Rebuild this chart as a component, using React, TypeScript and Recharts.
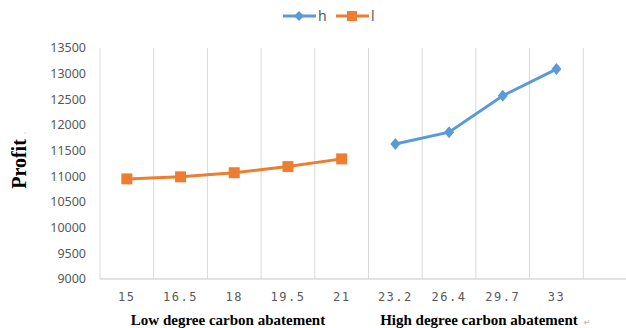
import React from 'react';
import {
  LineChart,
  Line,
  XAxis,
  YAxis,
  CartesianGrid,
} from 'recharts';

const degrees = ['15', '16.5', '18', '19.5', '21', '23.2', '26.4', '29.7', '33', ''];
const highProfit = [null, null, null, null, null, 11630, 11860, 12570, 13090, null];
const lowProfit = [10950, 10990, 11070, 11190, 11340, null, null, null, null, null];
const profitTicks = [9000, 9500, 10000, 10500, 11000, 11500, 12000, 12500, 13000, 13500];

const data = degrees.map((d, i) => ({ degree: d, h: highProfit[i], l: lowProfit[i] }));

const BLUE = '#5b9bd5';
const ORANGE = '#ed7d31';
const GRID = '#d9d9d9';
const TEXT = '#595959';

const PLOT_WIDTH = 537;
const HALF_STEP = PLOT_WIDTH / degrees.length / 2;

const Diamond = (props: any) => {
  const { cx, cy, value } = props;
  if (value == null || cx == null || cy == null) return null;
  return <path d={`M${cx},${cy - 6}L${cx + 5},${cy}L${cx},${cy + 6}L${cx - 5},${cy}Z`} fill={BLUE} />;
};

const Square = (props: any) => {
  const { cx, cy, value } = props;
  if (value == null || cx == null || cy == null) return null;
  return <rect x={cx - 5.5} y={cy - 5.5} width={11} height={11} fill={ORANGE} />;
};

const DegreeTick = (props: any) => {
  const { x, y, payload } = props;
  return (
    <text
      x={x}
      y={y}
      dy={12}
      textAnchor="middle"
      fill={TEXT}
      fontSize={12}
      fontFamily="'DejaVu Sans Mono', monospace"
      style={{ letterSpacing: 1.5 }}
    >
      {payload.value}
    </text>
  );
};

// band edges, so the grid lines sit between the categories
const bandEdges = ({ offset }: any) => {
  const step = offset.width / degrees.length;
  return degrees.map((_, i) => offset.left + i * step).concat(offset.left + offset.width);
};

const App = () => {
  return (
    <div style={{ position: 'absolute', left: 0, top: 0, width: 626, height: 328, overflow: 'hidden', background: '#fff' }}>
      <LineChart
        width={640}
        height={328}
        data={data}
        margin={{ top: 48, right: 3, bottom: 19, left: 0 }}
      >
        <CartesianGrid horizontal={false} stroke={GRID} verticalCoordinatesGenerator={bandEdges} />
        <XAxis
          dataKey="degree"
          height={30}
          padding={{ left: HALF_STEP, right: HALF_STEP }}
          axisLine={{ stroke: GRID, strokeWidth: 1.5 }}
          tickLine={false}
          tick={<DegreeTick />}
          interval={0}
          tickMargin={4}
        />
        <YAxis
          width={100}
          domain={[9000, 13500]}
          ticks={profitTicks}
          axisLine={false}
          tickLine={false}
          tickMargin={8}
          tick={{ fill: TEXT, fontSize: 12.5, fontFamily: "'Noto Sans', sans-serif" }}
        />
        <Line
          dataKey="h"
          stroke={BLUE}
          strokeWidth={3}
          dot={<Diamond />}
          activeDot={false}
          isAnimationActive={false}
        />
        <Line
          dataKey="l"
          stroke={ORANGE}
          strokeWidth={3}
          dot={<Square />}
          activeDot={false}
          isAnimationActive={false}
        />
      </LineChart>

      <svg width={626} height={328} style={{ position: 'absolute', left: 0, top: 0, pointerEvents: 'none' }}>
        {/* legend */}
        <line x1={283} y1={16} x2={316} y2={16} stroke={BLUE} strokeWidth={3} />
        <path d="M299,11L304,16L299,21L294,16Z" fill={BLUE} />
        <text x={318} y={21} fill={TEXT} fontSize={14} fontFamily="'Noto Sans', sans-serif">h</text>
        <line x1={336} y1={16} x2={369} y2={16} stroke={ORANGE} strokeWidth={3} />
        <rect x={347} y={11} width={10} height={10} fill={ORANGE} />
        <text x={371} y={21} fill={TEXT} fontSize={14} fontFamily="'Noto Sans', sans-serif">l</text>

        {/* axis titles */}
        <text
          transform="translate(26,164) rotate(-90)"
          textAnchor="middle"
          fontSize={20}
          fontWeight="bold"
          fontFamily="'Liberation Serif', serif"
          fill="#000"
        >
          Profit
        </text>
        <text x={24} y={133} fontSize={7} fill="#aaa" fontFamily="'DejaVu Sans', sans-serif">,</text>
        <text x={228} y={325} textAnchor="middle" fontSize={15} fontWeight="bold" fontFamily="'Liberation Serif', serif" fill="#000">
          Low degree carbon abatement
        </text>
        <text x={479} y={325} textAnchor="middle" fontSize={15} fontWeight="bold" fontFamily="'Liberation Serif', serif" fill="#000">
          High degree carbon abatement
        </text>
        <text x={584} y={325} fontSize={8} fill="#aaa" fontFamily="'DejaVu Sans', sans-serif">↵</text>
      </svg>
    </div>
  );
};

export default App;
